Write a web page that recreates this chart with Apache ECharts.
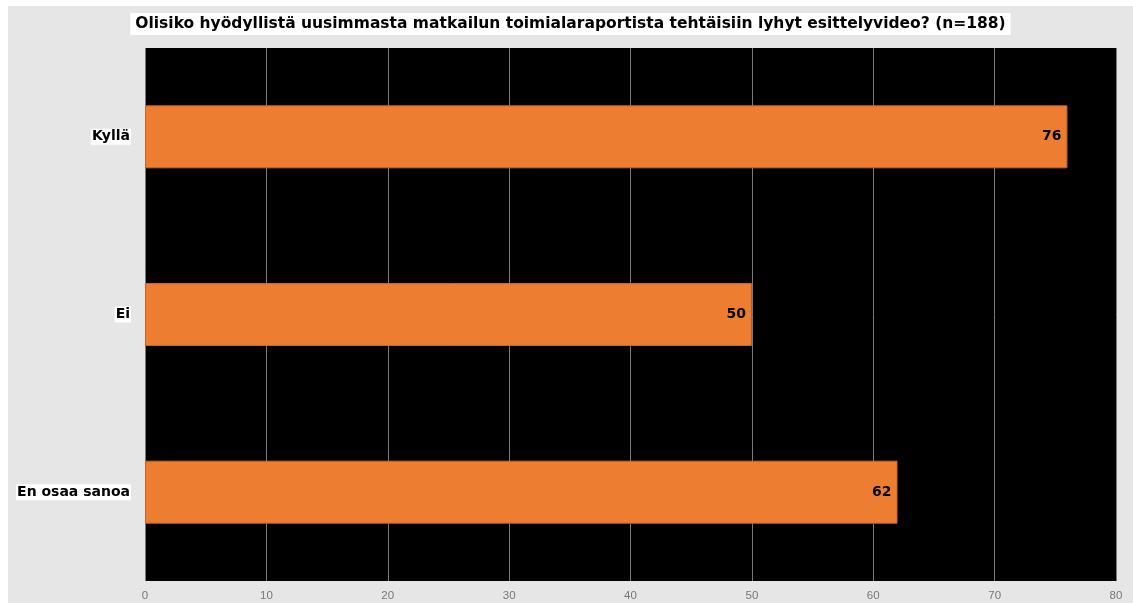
<!DOCTYPE html>
<html>
<head>
<meta charset="utf-8">
<script src="https://cdn.jsdelivr.net/npm/echarts@6/dist/echarts.min.js"></script>
<style>
  html, body { margin: 0; padding: 0; background: #fff; }
  #main { position: absolute; left: 8px; top: 6px; width: 1125px; height: 597px; background: #e6e6e6; }
</style>
</head>
<body>
<div id="main"></div>
<script>
const titleText = 'Olisiko hyödyllistä uusimmasta matkailun toimialaraportista tehtäisiin lyhyt esittelyvideo? (n=188)'
const categories = ['Kyllä', 'Ei', 'En osaa sanoa']
const answers = [76, 50, 62]
const axisMin = 0
const axisMax = 80
const axisStep = 10

const chart = echarts.init(document.getElementById('main'))

chart.setOption({
    animation: false,
    title: {
        text: titleText,
        left: 'center',
        top: 7,
        padding: [3, 5],
        backgroundColor: '#fff',
        textStyle: { fontFamily: 'DejaVu Sans', fontSize: 15.5, fontWeight: 'bold', color: '#000' }
    },
    grid: {
        left: 137, right: 17, top: 42, bottom: 22,
        show: true, backgroundColor: '#000', borderWidth: 0
    },
    xAxis: {
        type: 'value',
        min: axisMin, max: axisMax, interval: axisStep,
        axisLine: { show: false },
        axisTick: { show: false },
        axisLabel: { color: '#777', fontSize: 11.5, fontFamily: 'Liberation Sans, Arial', margin: 9 },
        splitLine: { lineStyle: { color: '#7a7a7a', width: 1 } }
    },
    yAxis: {
        type: 'category',
        data: categories,
        inverse: true,
        axisLine: { show: false },
        axisTick: { show: false },
        axisLabel: {
            color: '#000', fontSize: 14, fontWeight: 'bold', fontFamily: 'DejaVu Sans',
            backgroundColor: '#fff', padding: [1, 1], margin: 14
        }
    },
    series: [{
        type: 'bar',
        data: answers,
        barWidth: 63,
        itemStyle: { color: '#ED7D31', borderColor: '#c8652a', borderWidth: 1 },
        label: {
            show: true, position: 'insideRight', distance: 6,
            color: '#000', fontSize: 14, fontWeight: 'bold', fontFamily: 'DejaVu Sans'
        }
    }]
})
</script>
</body>
</html>
